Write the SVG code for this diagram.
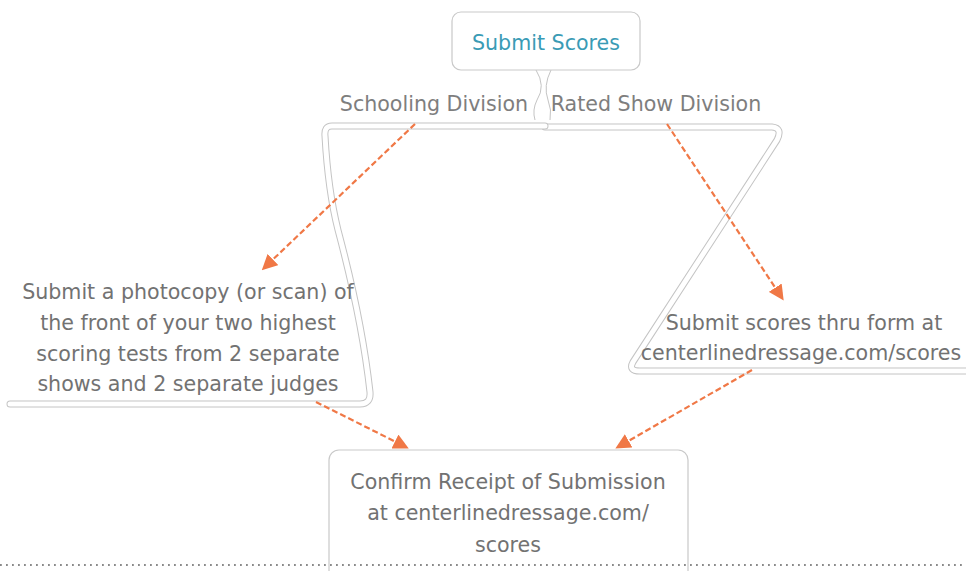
<svg xmlns="http://www.w3.org/2000/svg" width="966" height="571" viewBox="0 0 966 571">
<defs>
<style>
.t{font-family:"DejaVu Sans","Noto Sans","Liberation Sans",sans-serif;font-size:20.6px;fill:#727272;text-anchor:middle}
.lab{font-family:"DejaVu Sans","Noto Sans","Liberation Sans",sans-serif;font-size:20.6px;fill:#7e7e7e;text-anchor:middle}
.root{font-family:"DejaVu Sans","Noto Sans","Liberation Sans",sans-serif;font-size:20.6px;fill:#3a9bb5;text-anchor:middle}
.box{fill:#fff;stroke:#c9c9c9;stroke-width:1.2}
.dbl-o{fill:none;stroke:#c4c4c4;stroke-width:7;stroke-linejoin:round;stroke-linecap:round}
.dbl-i{fill:none;stroke:#fff;stroke-width:5;stroke-linejoin:round;stroke-linecap:round}
.edge{fill:none;stroke:#f07846;stroke-width:2.2;stroke-dasharray:6 3}
</style>
<marker id="ah" viewBox="0 0 10 10" refX="8" refY="5" markerWidth="7" markerHeight="7" orient="auto" markerUnits="strokeWidth">
<path d="M0,0 L10,5 L0,10 z" fill="#f07846"/>
</marker>
</defs>
<rect width="966" height="571" fill="#fff"/>

<g id="node-rated">
<path class="dbl-o" d="M545,127 L772,127 Q783,128 777,140 L633,362 Q628,371 640,371 L966,371"/>
<path class="dbl-i" d="M545,127 L772,127 Q783,128 777,140 L633,362 Q628,371 640,371 L966,371"/>
<text class="lab" x="656" y="111">Rated Show Division</text>
<text class="t" x="804" y="330">Submit scores thru form at</text>
<text class="t" x="801" y="360" font-size="20.2px">centerlinedressage.com/scores</text>
</g>

<g id="node-schooling">
<path class="dbl-o" d="M545,126 L332,126 Q324,126 325,136 Q328,190 338,230 Q362,320 370,392 Q371,404 360,404 L10,404"/>
<path class="dbl-i" d="M545,126 L332,126 Q324,126 325,136 Q328,190 338,230 Q362,320 370,392 Q371,404 360,404 L10,404"/>
<text class="lab" x="434" y="111">Schooling Division</text>
<text class="t" x="188" y="299">Submit a photocopy (or scan) of</text>
<text class="t" x="188" y="330">the front of your two highest</text>
<text class="t" x="188" y="361">scoring tests from 2 separate</text>
<text class="t" x="188" y="391">shows and 2 separate judges</text>
</g>

<g id="node-root">
<path d="M536,70 Q546,86 537,100 Q532,110 535,120" fill="none" stroke="#c4c4c4" stroke-width="1"/>
<path d="M551,70 Q543,86 548,100 Q552,110 550,120" fill="none" stroke="#c4c4c4" stroke-width="1"/>
<rect class="box" x="452" y="12" width="188" height="58" rx="9"/>
<text class="root" x="546" y="50">Submit Scores</text>
</g>

<g id="node-confirm">
<rect class="box" x="329" y="450" width="359" height="140" rx="10"/>
<text class="t" x="508" y="489">Confirm Receipt of Submission</text>
<text class="t" x="508" y="520">at centerlinedressage.com/</text>
<text class="t" x="508" y="552">scores</text>
</g>

<line x1="0" y1="565" x2="966" y2="565" stroke="#8a8a8a" stroke-width="1.8" stroke-dasharray="1.8 4.2"/>

<g id="connectors">
<path class="edge" d="M415,124 L264,268" marker-end="url(#ah)"/>
<path class="edge" d="M667,124 L782,298" marker-end="url(#ah)"/>
<path class="edge" d="M316,402 L406,447" marker-end="url(#ah)"/>
<path class="edge" d="M752,370 L618,447" marker-end="url(#ah)"/>
</g>
</svg>
